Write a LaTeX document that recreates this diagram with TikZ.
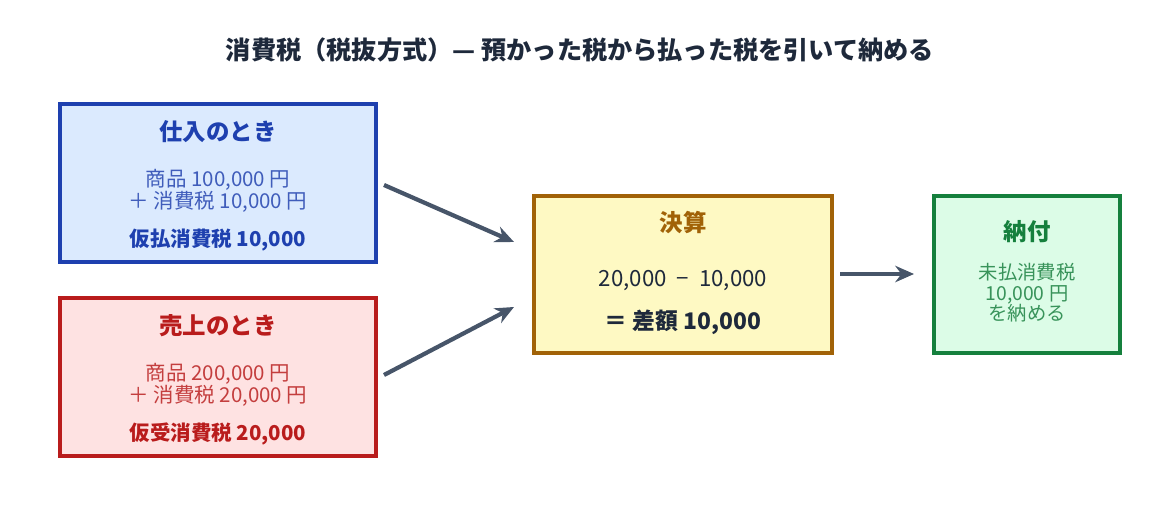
\documentclass[tikz,border=0pt]{standalone}
\usepackage{fontspec}
\setmainfont{Noto Sans CJK JP}
\usetikzlibrary{arrows.meta}
\definecolor{bF}{HTML}{DBEAFE}\definecolor{bD}{HTML}{1E40AF}
\definecolor{rF}{HTML}{FEE2E2}\definecolor{rD}{HTML}{B91C1C}
\definecolor{yF}{HTML}{FEF9C3}\definecolor{yD}{HTML}{A16207}
\definecolor{gF}{HTML}{DCFCE7}\definecolor{gD}{HTML}{15803D}
\definecolor{ar}{HTML}{475569}\definecolor{tt}{HTML}{1E293B}
\begin{document}
\begin{tikzpicture}[x=0.03cm,y=-0.03cm,
 box/.style={draw,line width=3.6pt},
 conn/.style={draw=ar,line width=3.6pt,-{Stealth[length=16pt,width=14pt]}},
 t/.style={font=\fontsize{20}{22}\selectfont\bfseries},
 b/.style={font=\fontsize{17.5}{19}\selectfont,align=center}]
\useasboundingbox (0,0) rectangle (1161,507);
\node[font=\fontsize{21.5}{24}\selectfont\bfseries,text=tt] (title) at (580,50) {消費税（税抜方式）— 預かった税から払った税を引いて納める};
\draw[box,draw=bD,fill=bF] (60,104) rectangle (376,262);
\node[t,text=bD] (bt) at (218,132) {仕入のとき};
\node[b,text=bD!85] (bb) at (218,191) {商品 100,000 円\\＋ 消費税 10,000 円};
\node[text=bD,font=\fontsize{17.5}{19}\selectfont\bfseries] (bs) at (218,240) {仮払消費税 10,000};
\draw[box,draw=rD,fill=rF] (60,298) rectangle (376,456);
\node[t,text=rD] (rt) at (218,326) {売上のとき};
\node[b,text=rD!85] (rb) at (218,385) {商品 200,000 円\\＋ 消費税 20,000 円};
\node[text=rD,font=\fontsize{17.5}{19}\selectfont\bfseries] (rs) at (218,434) {仮受消費税 20,000};
\draw[box,draw=yD,fill=yF] (534,196) rectangle (832,353);
\node[t,text=yD] (yt) at (683,223) {決算};
\node[b,text=tt,font=\fontsize{19}{20}\selectfont] (yb) at (683,281) {20,000 \ − \ 10,000};
\node[text=tt,font=\fontsize{19.5}{21}\selectfont\bfseries] (ys) at (683,322) {＝ 差額 10,000};
\draw[box,draw=gD,fill=gF] (934,196) rectangle (1120,353);
\node[t,text=gD] (gt) at (1027,232) {納付};
\node[b,text=gD!85,font=\fontsize{16.5}{17.5}\selectfont] (gb) at (1027,293) {未払消費税\\10,000 円\\を納める};
\coordinate (a1) at (384,185);\coordinate (a2) at (514,242);
\coordinate (b1) at (384,375);\coordinate (b2) at (514,307);
\coordinate (c1) at (840,274);\coordinate (c2) at (914,274);
\draw[conn] (a1)--(a2);\draw[conn] (b1)--(b2);\draw[conn] (c1)--(c2);
\end{tikzpicture}
\end{document}
